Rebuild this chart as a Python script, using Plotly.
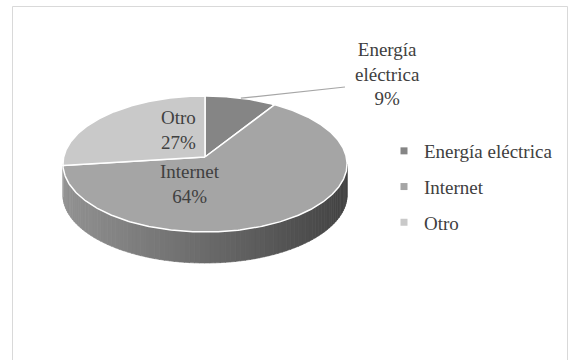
import numpy as np
import plotly.graph_objects as go

# ---- data ----
categories = ["Energía eléctrica", "Internet", "Otro"]
values = [9, 64, 27]
slice_colors = ["#858585", "#a5a5a5", "#c9c9c9"]
label_text = ["Energía<br>eléctrica<br>9%", "Internet<br>64%", "Otro<br>27%"]

# ---- geometry of the tilted pie (pixel space) ----
W, H = 572, 360
CX, CY = 205.0, 157.0
RX, RY = 141.3, 67.3
PERSP = 0.103
DEPTH = 31.0
FONT = "Liberation Serif"
TXT = "#404040"
FS = 19


def proj(theta_deg, dz=0.0):
    t = np.radians(theta_deg)
    u, v = np.sin(t), np.cos(t)
    s = 1.0 / (1.0 + PERSP * v)
    return CX + RX * u * s, CY - RY * v * s + dz


def arc(a0, a1, n, dz=0.0):
    th = np.linspace(a0, a1, max(n, 2))
    xs, ys = proj(th, dz)
    return list(xs), list(ys)


def hex_to_rgb(h):
    h = h.lstrip("#")
    return [int(h[i:i + 2], 16) for i in (0, 2, 4)]


fig = go.Figure()

total = float(sum(values))
bounds = np.concatenate([[0.0], np.cumsum(values) / total * 360.0])

# ---- side (front rim) drawn as shaded strips ----
theta_r = np.degrees(np.arccos(-PERSP))
theta_l = 360.0 - theta_r
xl, _ = proj(theta_l)
xr, _ = proj(theta_r)
n_strips = 90
edges = np.linspace(theta_r, theta_l, n_strips + 1)
for i in range(n_strips):
    a0, a1 = edges[i], edges[i + 1]
    mid = 0.5 * (a0 + a1)
    k = int(np.searchsorted(bounds, mid, side="right") - 1)
    k = min(max(k, 0), len(values) - 1)
    xt, yt = arc(a0, a1 + 0.15, 4)
    xb, yb = arc(a1 + 0.15, a0, 4, DEPTH)
    xm, _ = proj(mid)
    f = 0.885 + (0.406 - 0.885) * (xm - xl) / (xr - xl)
    r, g, b = [int(round(c * f)) for c in hex_to_rgb(slice_colors[k])]
    col = f"rgb({r},{g},{b})"
    fig.add_trace(go.Scatter(
        x=xt + xb + [xt[0]], y=yt + yb + [yt[0]], mode="lines",
        fill="toself", fillcolor=col, line=dict(color=col, width=0.6),
        hoverinfo="skip", showlegend=False))

# ---- top face slices ----
for i, cat in enumerate(categories):
    a0, a1 = bounds[i], bounds[i + 1]
    xs, ys = arc(a0, a1, int((a1 - a0) * 1.5) + 3)
    fig.add_trace(go.Scatter(
        x=[CX] + xs + [CX], y=[CY] + ys + [CY], mode="lines",
        fill="toself", fillcolor=slice_colors[i],
        line=dict(color="white", width=1.5),
        name=cat, hoverinfo="skip", showlegend=False))

# ---- leader line for the small slice ----
m0 = 0.5 * (bounds[0] + bounds[1])
lx, ly = proj(m0)
fig.add_trace(go.Scatter(x=[lx, 345], y=[ly, 87], mode="lines",
                         line=dict(color="#a6a6a6", width=1.2),
                         hoverinfo="skip", showlegend=False))

# ---- legend entries ----
for i, cat in enumerate(categories):
    fig.add_trace(go.Scatter(
        x=[None], y=[None], mode="markers", name=cat,
        marker=dict(symbol="square", size=7, color=slice_colors[i]),
        legendgroup=f"g{i}", showlegend=True))

# ---- data labels ----
label_pos = [(387, 74), (190, 184), (178, 130)]
for i in range(len(categories)):
    fig.add_annotation(x=label_pos[i][0], y=label_pos[i][1], text=label_text[i],
                       showarrow=False, xref="x", yref="y",
                       font=dict(family=FONT, size=FS, color=TXT),
                       align="center")

# ---- outer chart border ----
fig.add_shape(type="rect", xref="x", yref="y", x0=12.5, y0=6.5, x1=567.5, y1=368,
              line=dict(color="#d9d9d9", width=1), fillcolor="rgba(0,0,0,0)",
              layer="below")

fig.update_layout(
    width=W, height=H,
    margin=dict(l=0, r=0, t=0, b=0),
    paper_bgcolor="white", plot_bgcolor="white",
    font=dict(family=FONT),
    xaxis=dict(range=[0, W], visible=False, fixedrange=True),
    yaxis=dict(range=[H, 0], visible=False, fixedrange=True),
    showlegend=True,
    legend=dict(x=384 / W, y=1 - 132 / H, xanchor="left", yanchor="top",
                font=dict(family=FONT, size=FS, color=TXT),
                tracegroupgap=8, traceorder="grouped",
                bgcolor="rgba(0,0,0,0)", itemclick=False, itemdoubleclick=False),
)

fig.write_html("out.html")
